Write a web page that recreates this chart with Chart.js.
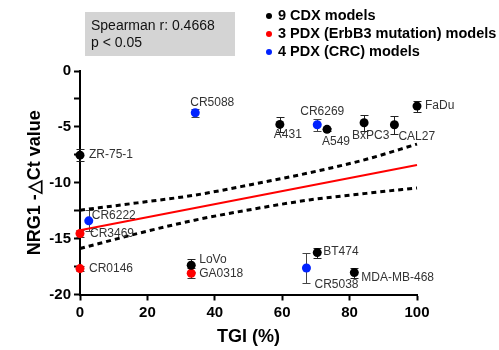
<!DOCTYPE html>
<html lang="en">
<head>
<meta charset="UTF-8">
<title>NRG1 vs TGI</title>
<script src="https://cdn.jsdelivr.net/npm/chart.js"></script>
<style>
  body { margin: 0; background: #fff; }
</style>
</head>
<body>
<canvas id="nrgChart" width="499" height="350"></canvas>
<script>
// 9 CDX models
const cdxNames = ['ZR-75-1', 'LoVo', 'A431', 'A549', 'BxPC3', 'CAL27', 'FaDu', 'BT474', 'MDA-MB-468'];
const cdxTGI   = [0, 33.0, 59.3, 73.3, 84.3, 93.3, 100, 70.4, 81.4];
const cdxCt    = [-7.53, -17.38, -4.78, -5.22, -4.63, -4.81, -3.14, -16.25, -18.04];
const cdxErr   = [0.55, 0.6, 0.7, 0.15, 0.7, 0.8, 0.5, 0.45, 0.45];

// 3 PDX (ErbB3 mutation) models
const erbNames = ['CR3469', 'CR0146', 'GA0318'];
const erbTGI   = [0, 0, 33.0];
const erbCt    = [-14.54, -17.68, -18.1];
const erbErr   = [0.3, 0.2, 0.45];

// 4 PDX (CRC) models
const crcNames = ['CR6222', 'CR5088', 'CR6269', 'CR5038'];
const crcTGI   = [2.6, 34.2, 70.4, 67.2];
const crcCt    = [-13.41, -3.74, -4.81, -17.63];
const crcErr   = [0.95, 0.35, 0.55, 1.35];

// regression line and 95% band
const fitTGI   = [0, 100];
const fitCt    = [-14.25, -8.42];
const bandTGI  = [0, 17, 34, 51, 68, 85, 100];
const bandHigh = [-12.46, -11.8, -11.11, -10.15, -9.11, -7.9, -6.54];
const bandLow  = [-15.89, -14.55, -13.35, -12.38, -11.54, -10.95, -10.46];

const xTicks = [0, 20, 40, 60, 80, 100];
const yTicks = [0, -5, -10, -15, -20];

const legendText = ['9 CDX models', '3 PDX (ErbB3 mutation) models', '4 PDX (CRC) models'];
const statsText = ['Spearman r: 0.4668', 'p < 0.05'];

const FONT = "'Liberation Sans', Arial, sans-serif";

const pts = (xs, ys) => xs.map((v, i) => ({x: v, y: ys[i]}));

const groups = [
  {names: cdxNames, tgi: cdxTGI, ct: cdxCt, err: cdxErr, color: '#000000', bar: '#222222'},
  {names: erbNames, tgi: erbTGI, ct: erbCt, err: erbErr, color: '#ff0000', bar: '#333333'},
  {names: crcNames, tgi: crcTGI, ct: crcCt, err: crcErr, color: '#0022ff', bar: '#444444'}
];

// where each point label sits relative to its dot
const labelPos = {
  'ZR-75-1': [9, 0], 'LoVo': [8, -6], 'A431': [-6, 10], 'A549': [-5, 12],
  'BxPC3': [-12, 13], 'CAL27': [4, 12], 'FaDu': [8, 0], 'BT474': [6, -1],
  'MDA-MB-468': [7, 5], 'CR3469': [10, 0], 'CR0146': [9, 0], 'GA0318': [8, 0],
  'CR6222': [3, -5], 'CR5088': [-5, -10], 'CR6269': [-17, -13], 'CR5038': [8, 17]
};

const annotate = {
  id: 'annotate',
  beforeDatasetsDraw(chart) {
    const {ctx, scales: {x, y}} = chart;
    ctx.save();
    ctx.lineWidth = 1;
    groups.forEach(g => {
      ctx.strokeStyle = g.bar;
      g.tgi.forEach((t, i) => {
        const px = Math.round(x.getPixelForValue(t)) + 0.5;
        const top = Math.round(y.getPixelForValue(g.ct[i] + g.err[i])) + 0.5;
        const bot = Math.round(y.getPixelForValue(g.ct[i] - g.err[i])) + 0.5;
        ctx.beginPath();
        ctx.moveTo(px, top); ctx.lineTo(px, bot);
        ctx.moveTo(px - 4, top); ctx.lineTo(px + 4, top);
        ctx.moveTo(px - 4, bot); ctx.lineTo(px + 4, bot);
        ctx.stroke();
      });
    });
    ctx.restore();
  },
  afterDatasetsDraw(chart) {
    const {ctx, scales: {x, y}} = chart;
    ctx.save();
    ctx.font = '12px ' + FONT;
    ctx.fillStyle = '#333';
    ctx.textBaseline = 'middle';
    ctx.textAlign = 'left';
    groups.forEach(g => {
      g.names.forEach((n, i) => {
        const off = labelPos[n];
        ctx.fillText(n, x.getPixelForValue(g.tgi[i]) + off[0], y.getPixelForValue(g.ct[i]) + off[1]);
      });
    });
    ctx.restore();
  },
  afterDraw(chart) {
    const ctx = chart.ctx;
    ctx.save();
    // stats box
    ctx.fillStyle = '#d4d4d4';
    ctx.fillRect(85, 12, 150, 44);
    ctx.fillStyle = '#111';
    ctx.font = '14px ' + FONT;
    ctx.textBaseline = 'middle';
    ctx.fillText(statsText[0], 91, 26);
    ctx.fillText(statsText[1], 91, 43);
    // legend
    ctx.font = 'bold 14.5px ' + FONT;
    legendText.forEach((t, i) => {
      const ly = 16 + i * 18;
      ctx.fillStyle = groups[i].color;
      ctx.beginPath();
      ctx.arc(269, ly, 3, 0, Math.PI * 2);
      ctx.fill();
      ctx.fillStyle = '#000';
      ctx.fillText(t, 278, ly);
    });
    ctx.restore();
  }
};

const scatterSet = (g, label) => ({
  type: 'scatter',
  label: label,
  data: pts(g.tgi, g.ct),
  backgroundColor: g.color,
  borderColor: g.color,
  pointRadius: 4.5,
  pointHoverRadius: 4.5,
  borderWidth: 0,
  clip: false
});

new Chart(document.getElementById('nrgChart'), {
  type: 'scatter',
  data: {
    datasets: [
      scatterSet(groups[0], legendText[0]),
      scatterSet(groups[1], legendText[1]),
      scatterSet(groups[2], legendText[2]),
      {
        type: 'line', label: 'fit', data: pts(fitTGI, fitCt),
        borderColor: '#ff0000', borderWidth: 2, pointRadius: 0, clip: false
      },
      {
        type: 'line', label: 'upper', data: pts(bandTGI, bandHigh),
        borderColor: '#000', borderWidth: 3, borderDash: [5, 4], pointRadius: 0,
        cubicInterpolationMode: 'monotone', clip: false
      },
      {
        type: 'line', label: 'lower', data: pts(bandTGI, bandLow),
        borderColor: '#000', borderWidth: 3, borderDash: [5, 4], pointRadius: 0,
        cubicInterpolationMode: 'monotone', clip: false
      }
    ]
  },
  options: {
    responsive: false,
    animation: false,
    events: [],
    layout: { padding: { top: 71, right: 82, left: 0, bottom: 0 } },
    plugins: { legend: { display: false }, tooltip: { enabled: false } },
    scales: {
      x: {
        type: 'linear', min: 0, max: 100,
        afterBuildTicks: s => { s.ticks = xTicks.map(v => ({value: v})); },
        afterFit: s => { s.height = 55.5; },
        ticks: { color: '#000', padding: 3, font: { family: FONT, size: 15, weight: 'bold' } },
        grid: { drawOnChartArea: false, tickLength: 6, tickColor: '#000', tickWidth: 2 },
        border: { color: '#000', width: 2 },
        title: {
          display: true, text: 'TGI (%)', color: '#000',
          font: { family: FONT, size: 18, weight: 'bold' }, padding: { top: 0, bottom: 2 }
        }
      },
      y: {
        type: 'linear', min: -20, max: 0,
        ticks: {
          stepSize: 2.5, color: '#000', padding: 3,
          font: { family: FONT, size: 15, weight: 'bold' },
          callback: v => (yTicks.includes(v) ? String(v) : '')
        },
        afterFit: s => { s.width = 80; },
        grid: { drawOnChartArea: false, tickLength: 6, tickColor: '#000', tickWidth: 2 },
        border: { color: '#000', width: 2 },
        title: {
          display: true, text: 'NRG1 -\u25B3Ct value', color: '#000',
          font: { family: FONT, size: 18, weight: 'bold' }, padding: { top: 24, bottom: 0 }
        }
      }
    }
  },
  plugins: [annotate]
});
</script>
</body>
</html>
